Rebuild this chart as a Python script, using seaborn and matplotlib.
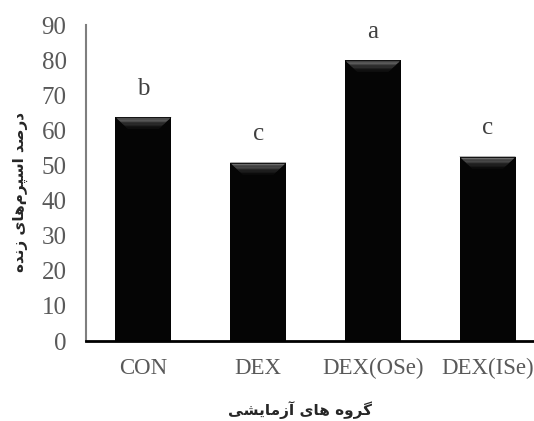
import matplotlib
matplotlib.use("Agg")
import matplotlib.pyplot as plt
import seaborn as sns
import pandas as pd

# Data
groups = ["CON", "DEX", "DEX(OSe)", "DEX(ISe)"]
viable = [63.8, 50.8, 80.0, 52.5]
letters = ["b", "c", "a", "c"]

y_title = "درصد اسپرم‌های زنده"
x_title = "گروه های آزمایشی"

# --- minimal Persian shaping (matplotlib has no text shaping) ---
FORMS = {  # isolated, final, initial, medial
    "ا": ("\uFE8D", "\uFE8E", None, None),
    "آ": ("\uFE81", "\uFE82", None, None),
    "د": ("\uFEA9", "\uFEAA", None, None),
    "ر": ("\uFEAD", "\uFEAE", None, None),
    "ز": ("\uFEAF", "\uFEB0", None, None),
    "و": ("\uFEED", "\uFEEE", None, None),
    "ص": ("\uFEB9", "\uFEBA", "\uFEBB", "\uFEBC"),
    "س": ("\uFEB1", "\uFEB2", "\uFEB3", "\uFEB4"),
    "ش": ("\uFEB5", "\uFEB6", "\uFEB7", "\uFEB8"),
    "پ": ("\uFB56", "\uFB57", "\uFB58", "\uFB59"),
    "م": ("\uFEE1", "\uFEE2", "\uFEE3", "\uFEE4"),
    "ه": ("\uFEE9", "\uFEEA", "\uFEEB", "\uFEEC"),
    "ی": ("\uFBFC", "\uFBFD", "\uFBFE", "\uFBFF"),
    "ن": ("\uFEE5", "\uFEE6", "\uFEE7", "\uFEE8"),
    "گ": ("\uFB92", "\uFB93", "\uFB94", "\uFB95"),
}


def shape(text):
    out = []
    for i, ch in enumerate(text):
        if ch not in FORMS:
            if ch != "\u200c":
                out.append(ch)
            continue
        prev = text[i - 1] if i > 0 else ""
        nxt = text[i + 1] if i + 1 < len(text) else ""
        join_prev = prev in FORMS and FORMS[prev][2] is not None
        join_next = FORMS[ch][2] is not None and nxt in FORMS
        iso, fin, ini, med = FORMS[ch]
        if join_prev and join_next:
            out.append(med)
        elif join_prev:
            out.append(fin)
        elif join_next:
            out.append(ini)
        else:
            out.append(iso)
    return "".join(out)[::-1]


df = pd.DataFrame({"group": groups, "value": viable})

sns.set_style("white")
plt.rcParams["font.family"] = ["Liberation Serif", "DejaVu Sans"]

fig = plt.figure(figsize=(5.34, 4.21), dpi=100)
ax = fig.add_axes([86 / 534, 1 - 341 / 421, 459 / 534, 316 / 421])

sns.barplot(data=df, x="group", y="value", color="#050505", width=0.49,
            saturation=1, edgecolor="none", ax=ax)

# bevel on the top of each bar
for p in list(ax.patches):
    x0, w, top = p.get_x(), p.get_width(), p.get_height()
    dx, dy = 0.11, 3.4
    shades = ["#151515", "#6a6a6a", "#5a5a5a", "#4a4a4a", "#3a3a3a",
              "#2c2c2c", "#202020", "#161616", "#0e0e0e"]
    n = len(shades)
    for k, c in enumerate(shades):
        f0, f1 = k / n, (k + 1) / n
        poly = [(x0 + dx * f0, top - dy * f0), (x0 + w - dx * f0, top - dy * f0),
                (x0 + w - dx * f1, top - dy * f1), (x0 + dx * f1, top - dy * f1)]
        ax.add_patch(plt.Polygon(poly, closed=True, facecolor=c,
                                 edgecolor="none", zorder=3))

for i, (v, t) in enumerate(zip(viable, letters)):
    ax.text(i, v + 6.4, t, ha="center", va="baseline", fontsize=18,
            color="#404040", family="Liberation Serif")

ax.set_ylim(0, 90)
ax.set_xlim(-0.5, 3.5)
ax.set_yticks(range(0, 91, 10))
ax.tick_params(axis="both", length=0, labelcolor="#595959")
ax.tick_params(axis="y", pad=14, labelsize=18)
ax.tick_params(axis="x", pad=12, labelsize=16.5)
ax.set_xlabel("")
ax.set_ylabel("")

sns.despine(ax=ax, top=True, right=True)
ax.spines["left"].set_color("#7f7f7f")
ax.spines["left"].set_linewidth(1.5)
ax.spines["bottom"].set_color("#000000")
ax.spines["bottom"].set_linewidth(2)

fig.text(20 / 534, 1 - 192 / 421, shape(y_title), rotation=90, ha="center",
         va="center", fontsize=11, fontweight="bold", family=["DejaVu Sans"])
fig.text(300 / 534, 1 - 410 / 421, shape(x_title), ha="center", va="center",
         fontsize=11, fontweight="bold", family=["DejaVu Sans"])

fig.savefig("out.png", dpi=100)
